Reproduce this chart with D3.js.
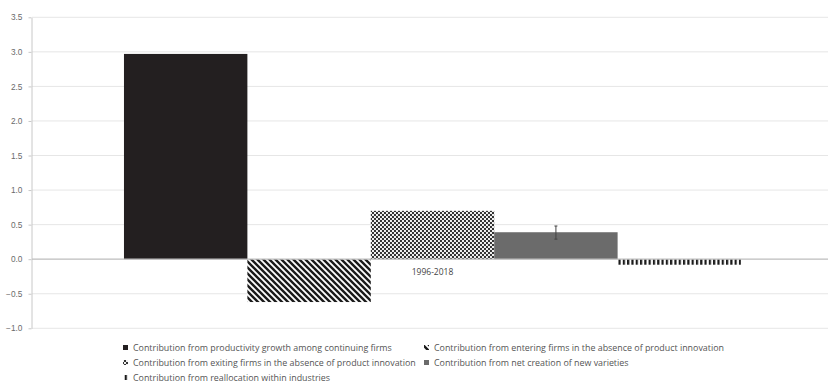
<!DOCTYPE html>
<html><head><meta charset="utf-8">
<script src="https://cdn.jsdelivr.net/npm/d3@7"></script>
<style>body{margin:0;background:#fff;}svg{display:block;font-family:"Open Sans","Liberation Sans",sans-serif;}</style>
</head><body><svg id="c" width="828" height="385"></svg>
<script>
const categories = ["1996-2018"];
const seriesNames = [
  "Contribution from productivity growth among continuing firms",
  "Contribution from entering firms in the absence of product innovation",
  "Contribution from exiting firms in the absence of product innovation",
  "Contribution from net creation of new varieties",
  "Contribution from reallocation within industries"
];
const seriesValues = [2.97, -0.62, 0.70, 0.39, -0.08];
const errorLow = [null, null, null, 0.29, null];
const errorHigh = [null, null, null, 0.48, null];
const yTicks = [-1.0, -0.5, 0.0, 0.5, 1.0, 1.5, 2.0, 2.5, 3.0, 3.5];

const svg = d3.select("#c");
const defs = svg.append("defs");
// patterns
const p1 = defs.append("pattern").attr("id","diag").attr("patternUnits","userSpaceOnUse")
  .attr("width",6).attr("height",6);
p1.append("rect").attr("width",6).attr("height",6).attr("fill","#fff");
p1.append("path").attr("d","M-1,-1 L7,7 M-4,2 L1,7 M2,-4 L7,1").attr("stroke","#1a1a1a").attr("stroke-width",2.4);
const p2 = defs.append("pattern").attr("id","check").attr("patternUnits","userSpaceOnUse")
  .attr("width",4).attr("height",4);
p2.append("rect").attr("width",4).attr("height",4).attr("fill","#f0f0f0");
p2.append("rect").attr("width",2).attr("height",2).attr("fill","#333");
p2.append("rect").attr("x",2).attr("y",2).attr("width",2).attr("height",2).attr("fill","#333");
const p3 = defs.append("pattern").attr("id","vert").attr("patternUnits","userSpaceOnUse")
  .attr("width",4.3).attr("height",10);
p3.append("rect").attr("width",4.3).attr("height",10).attr("fill","#fff");
p3.append("rect").attr("width",2.2).attr("height",10).attr("fill","#1a1a1a");

const fills = ["#231f20", "url(#diag)", "url(#check)", "#6b6b6b", "url(#vert)"];

const y = d3.scaleLinear().domain([-1, 3.5]).range([328.3, 17.3]);
const x0 = d3.scaleBand().domain(categories).range([35, 830]).paddingInner(0).paddingOuter(0.1442);
const x1 = d3.scaleBand().domain(d3.range(seriesNames.length)).range([0, x0.bandwidth()]).padding(0);

// gridlines
svg.append("g").selectAll("line").data(yTicks.filter(d => d !== 0)).join("line")
  .attr("x1", 32).attr("x2", 828).attr("y1", d => y(d)).attr("y2", d => y(d))
  .attr("stroke", "#e6e6e6").attr("stroke-width", 1);

// y axis
const yAxis = d3.axisLeft(y).tickValues(yTicks).tickFormat(d3.format(".1f")).tickSize(3).tickSizeOuter(0);
const ga = svg.append("g").attr("transform","translate(31.5,0)").call(yAxis);
ga.select(".domain").attr("stroke","#c8c8c8");
ga.selectAll(".tick line").attr("stroke","#c8c8c8");
ga.selectAll(".tick text").attr("fill","#6a6a6a").attr("font-size","8.3px").attr("x",-9);

// bars
const g = svg.append("g").attr("transform", `translate(${x0(categories[0])},0)`);
g.selectAll("rect").data(seriesValues).join("rect")
  .attr("x", (d,i) => x1(i)).attr("width", x1.bandwidth())
  .attr("y", d => y(Math.max(0,d))).attr("height", d => Math.abs(y(d) - y(0)))
  .attr("fill", (d,i) => fills[i]);

// error bar
seriesValues.forEach((v,i) => {
  if (errorLow[i] == null) return;
  const cx = x0(categories[0]) + x1(i) + x1.bandwidth()/2;
  const eg = svg.append("g").attr("stroke","#444").attr("stroke-width",1);
  eg.append("line").attr("x1",cx).attr("x2",cx).attr("y1",y(errorHigh[i])).attr("y2",y(errorLow[i]));
  eg.append("line").attr("x1",cx-1.5).attr("x2",cx+1.5).attr("y1",y(errorHigh[i])).attr("y2",y(errorHigh[i]));
  eg.append("line").attr("x1",cx-1.5).attr("x2",cx+1.5).attr("y1",y(errorLow[i])).attr("y2",y(errorLow[i]));
});

// zero line
svg.append("line").attr("x1",32).attr("x2",828).attr("y1",y(0)).attr("y2",y(0))
  .attr("stroke","#bdbdbd").attr("stroke-width",1.2);

// category label
svg.append("text").attr("x", x0(categories[0]) + x0.bandwidth()/2).attr("y", y(0) + 16)
  .attr("text-anchor","middle").attr("font-size","8.5px").attr("fill","#444").text(categories[0]);

// legend
const legPos = [[123,348],[424,348],[123,363],[424,363],[123,378]];
const lg = svg.append("g");
seriesNames.forEach((name,i) => {
  const [lx,ly] = legPos[i];
  lg.append("rect").attr("x",lx).attr("y",ly-3).attr("width",5).attr("height",5).attr("fill",fills[i]);
  lg.append("text").attr("x",lx+10).attr("y",ly+2.5).attr("font-size","8.9px").attr("fill","#555").text(name);
});
</script></body></html>
